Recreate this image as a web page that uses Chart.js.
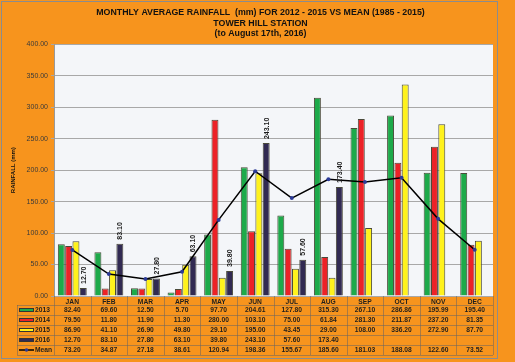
<!DOCTYPE html>
<html>
<head>
<meta charset="utf-8">
<script src="https://cdn.jsdelivr.net/npm/chart.js@4"></script>
<style>
  body { margin: 0; background: #F7941D; }
  canvas { display: block; }
</style>
</head>
<body>
<canvas id="rain" width="515" height="362"></canvas>
<script>
// values
var months = ['JAN','FEB','MAR','APR','MAY','JUN','JUL','AUG','SEP','OCT','NOV','DEC'];
var y2013 = [82.40, 69.60, 12.50, 5.70, 97.70, 204.61, 127.80, 315.30, 267.10, 286.86, 195.99, 195.40];
var y2014 = [79.50, 11.80, 11.90, 11.30, 280.00, 103.10, 75.00, 61.84, 281.30, 211.87, 237.20, 81.35];
var y2015 = [86.90, 41.10, 26.90, 49.80, 29.10, 195.00, 43.45, 29.00, 108.00, 336.20, 272.90, 87.70];
var y2016 = [12.70, 83.10, 27.80, 63.10, 39.80, 243.10, 57.60, 173.40, null, null, null, null];
var mean  = [73.20, 34.87, 27.18, 38.61, 120.94, 198.36, 155.67, 185.60, 181.03, 188.08, 122.60, 73.52];

var titleLines = ['MONTHLY AVERAGE RAINFALL  (mm) FOR 2012 - 2015 VS MEAN (1985 - 2015)',
                  'TOWER HILL STATION',
                  '(to August 17th, 2016)'];

var fontFam = '"Liberation Sans", Arial, sans-serif';
var colGreen = '#1DAA4A', colRed = '#EC2227', colYellow = '#FFF21C', colPurple = '#312A52';

var series = [
  { label: '2013', data: y2013, color: colGreen },
  { label: '2014', data: y2014, color: colRed },
  { label: '2015', data: y2015, color: colYellow },
  { label: '2016', data: y2016, color: colPurple }
];

// orange page, pale plot area and the outer frame
var backdrop = {
  id: 'backdrop',
  beforeDraw: function(chart) {
    var c = chart.ctx, a = chart.chartArea;
    c.save();
    c.fillStyle = '#F7941D';
    c.fillRect(0, 0, chart.width, chart.height);
    c.fillStyle = '#F4F6F9';
    c.fillRect(a.left, a.top, a.right - a.left, a.bottom - a.top);
    c.strokeStyle = '#8C8C8C';
    c.lineWidth = 1;
    c.strokeRect(1.5, 1.5, 496, 357);
    c.restore();
  }
};

// rotated value labels over the 2016 bars
var barLabels = {
  id: 'barLabels',
  afterDatasetsDraw: function(chart) {
    var c = chart.ctx;
    var meta = chart.getDatasetMeta(3);
    c.save();
    c.font = 'bold 7px ' + fontFam;
    c.fillStyle = '#1A1A1A';
    c.textAlign = 'left';
    c.textBaseline = 'middle';
    meta.data.forEach(function(bar, i) {
      if (y2016[i] == null) return;
      c.save();
      c.translate(bar.x + 0.5, bar.y - 4);
      c.rotate(-Math.PI / 2);
      c.fillText(y2016[i].toFixed(2), 0, 0);
      c.restore();
    });
    c.restore();
  }
};

// data table under the plot
var dataTable = {
  id: 'dataTable',
  afterDraw: function(chart) {
    var c = chart.ctx, a = chart.chartArea, x = chart.scales.x;
    var colW = (a.right - a.left) / months.length;
    var top = a.bottom, rowH = 10, tableLeft = 17;
    var rows = series.concat([{ label: 'Mean', data: mean }]);
    var bottom = top + 9 + rowH * rows.length;
    c.save();
    c.strokeStyle = 'rgba(110,100,95,0.55)';
    c.lineWidth = 1;
    c.beginPath();
    for (var r = 0; r <= rows.length; r++) {
      var yy = Math.round(top + 9 + r * rowH) + 0.5;
      c.moveTo(tableLeft, yy); c.lineTo(a.right, yy);
    }
    for (var i = 0; i <= months.length; i++) {
      var xx = Math.round(a.left + i * colW) + 0.5;
      c.moveTo(xx, top); c.lineTo(xx, bottom);
    }
    c.moveTo(tableLeft + 0.5, top + 9); c.lineTo(tableLeft + 0.5, bottom);
    c.stroke();

    c.font = 'bold 6.7px ' + fontFam;
    c.textBaseline = 'middle';
    rows.forEach(function(row, r) {
      var cy = top + 9 + r * rowH + rowH / 2;
      // legend key
      if (row.color) {
        c.fillStyle = row.color;
        c.fillRect(19, cy - 2, 15, 4);
        c.strokeStyle = '#333';
        c.strokeRect(19.5, cy - 1.5, 14, 3);
      } else {
        c.strokeStyle = '#000';
        c.lineWidth = 1.5;
        c.beginPath(); c.moveTo(19, cy); c.lineTo(34, cy); c.stroke();
        c.fillStyle = '#2B3A97';
        c.beginPath(); c.arc(26.5, cy, 1.8, 0, Math.PI * 2); c.fill();
        c.lineWidth = 1;
      }
      c.fillStyle = '#1E1E1E';
      c.textAlign = 'left';
      c.fillText(row.label, 35, cy);
      c.textAlign = 'center';
      row.data.forEach(function(v, i) {
        if (v == null) return;
        c.fillText(v.toFixed(2), x.getPixelForValue(i), cy);
      });
    });
    c.restore();
  }
};

var datasets = series.map(function(s) {
  return {
    type: 'bar',
    label: s.label,
    data: s.data,
    backgroundColor: s.color,
    borderColor: '#4A4A3A',
    borderWidth: 1,
    categoryPercentage: 0.8,
    barPercentage: 0.95,
    order: 2
  };
});
datasets.push({
  type: 'line',
  label: 'Mean',
  data: mean,
  borderColor: '#000',
  borderWidth: 1.5,
  pointRadius: 2,
  pointBackgroundColor: '#2B3A97',
  pointBorderWidth: 0,
  tension: 0,
  order: 1
});

new Chart(document.getElementById('rain'), {
  data: { labels: months, datasets: datasets },
  plugins: [backdrop, barLabels, dataTable],
  options: {
    responsive: false,
    animation: false,
    layout: { padding: { left: 8, right: 2, top: 0, bottom: 0 } },
    plugins: {
      legend: { display: false },
      tooltip: { enabled: false },
      title: {
        display: true,
        text: titleLines,
        color: '#111',
        font: { family: fontFam, size: 8.8, weight: 'bold', lineHeight: 1.15 },
        padding: { top: 8, bottom: 6 }
      }
    },
    scales: {
      x: {
        grid: { display: false, drawTicks: false },
        border: { display: false },
        ticks: { padding: 2, color: '#1E1E1E', font: { family: fontFam, size: 6.7, weight: 'bold' } },
        afterFit: function(s) { s.height = 66; }
      },
      y: {
        min: 0,
        max: 400,
        ticks: {
          stepSize: 50,
          padding: 3,
          color: '#3A3A3A',
          font: { family: fontFam, size: 7 },
          callback: function(v) { return v.toFixed(2); }
        },
        grid: { color: '#A8A8A8', tickLength: 3 },
        border: { color: '#999' },
        title: {
          display: true,
          text: 'RAINFALL (mm)',
          color: '#111',
          font: { family: fontFam, size: 6, weight: 'bold' },
          padding: 2
        },
        afterFit: function(s) { s.width = 46; }
      },
      // empty right-hand margin so the title centres like the original
      yMargin: {
        position: 'right',
        min: 0,
        max: 400,
        ticks: { display: false },
        grid: { display: false, drawTicks: false },
        border: { display: false },
        afterFit: function(s) { s.width = 20; }
      }
    }
  }
});
</script>
</body>
</html>
